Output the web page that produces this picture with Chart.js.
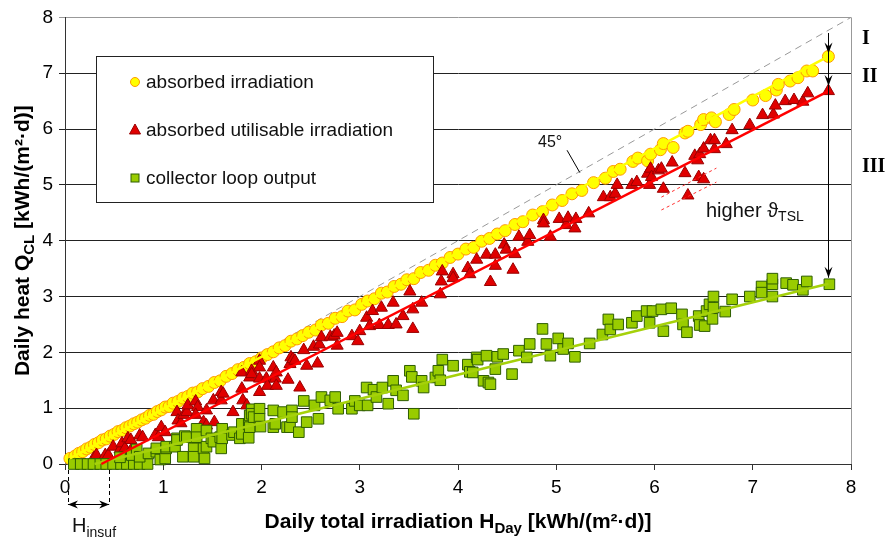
<!DOCTYPE html>
<html>
<head>
<meta charset="utf-8">
<script src="https://cdn.jsdelivr.net/npm/chart.js@4.4.1/dist/chart.umd.min.js"></script>
<style>
  html, body { margin: 0; padding: 0; background: #fff; }
  #wrap { width: 890px; height: 538px; }
</style>
</head>
<body>
<div id="wrap"><canvas id="heatChart" width="890" height="538"></canvas></div>
<script>
// absorbed irradiation (yellow circles)
const irrX = [0.05,0.10,0.14,0.18,0.22,0.26,0.30,0.34,0.38,0.42,0.46,0.50,0.54,0.58,0.62,0.66,0.70,0.74,0.78,0.82,0.86,0.90,0.94,0.98,1.02,1.06,1.10,1.15,1.20,1.25,1.30,1.35,1.40,1.46,1.52,1.58,1.64,1.70,1.76,1.82,1.88,1.94,2.00,2.06,2.12,2.18,2.24,2.30,2.36,2.42,2.48,2.55,2.61,2.68,2.75,2.82,2.88,2.95,3.02,3.08,3.15,3.22,3.28,3.35,3.42,3.48,3.55,3.62,3.70,3.77,3.84,3.92,4.00,4.08,4.16,4.24,4.32,4.40,4.48,4.58,4.66,4.76,4.86,4.96,5.06,5.16,5.26,5.38,5.50,5.58,5.65,5.78,5.83,5.93,5.96,6.06,6.09,6.19,6.31,6.34,6.47,6.50,6.58,6.62,6.76,6.81,7.00,7.13,7.24,7.26,7.38,7.46,7.55,7.61,7.77];
const irrY = [0.10,0.14,0.19,0.22,0.27,0.30,0.35,0.38,0.43,0.45,0.50,0.53,0.58,0.60,0.65,0.68,0.72,0.75,0.79,0.82,0.87,0.89,0.94,0.97,1.02,1.03,1.09,1.12,1.18,1.21,1.27,1.29,1.35,1.39,1.46,1.49,1.57,1.62,1.69,1.73,1.80,1.83,1.90,1.96,2.01,2.08,2.12,2.20,2.24,2.30,2.36,2.40,2.49,2.52,2.61,2.64,2.74,2.76,2.86,2.92,2.96,3.06,3.08,3.18,3.22,3.30,3.32,3.43,3.47,3.56,3.60,3.70,3.76,3.85,3.88,3.99,4.04,4.12,4.18,4.29,4.34,4.46,4.52,4.64,4.72,4.84,4.90,5.04,5.12,5.24,5.28,5.42,5.48,5.43,5.55,5.63,5.74,5.67,5.93,5.96,6.08,6.17,6.20,6.13,6.26,6.35,6.52,6.60,6.70,6.80,6.86,6.92,7.04,7.04,7.30];

// absorbed utilisable irradiation (red triangles)
const utilX = [0.29,0.32,0.41,0.44,0.49,0.56,0.58,0.61,0.64,0.67,0.67,0.76,0.79,0.92,0.95,0.98,1.02,1.14,1.15,1.18,1.21,1.24,1.25,1.32,1.33,1.35,1.33,1.41,1.44,1.44,1.51,1.52,1.59,1.59,1.61,1.71,1.80,1.81,1.80,1.85,1.88,1.90,1.90,1.98,1.98,1.98,1.98,2.05,2.06,2.12,2.14,2.15,2.15,2.27,2.29,2.30,2.32,2.34,2.39,2.43,2.46,2.53,2.57,2.59,2.61,2.70,2.74,2.77,2.77,2.92,2.98,3.00,3.07,3.10,3.13,3.20,3.22,3.29,3.34,3.37,3.44,3.51,3.54,3.54,3.63,3.82,3.83,3.84,3.95,3.95,4.10,4.12,4.19,4.29,4.33,4.38,4.38,4.47,4.49,4.56,4.58,4.62,4.71,4.73,4.87,4.87,4.94,5.03,5.10,5.12,5.19,5.20,5.33,5.48,5.55,5.60,5.62,5.77,5.82,5.93,5.95,5.96,5.97,6.04,6.07,6.09,6.18,6.31,6.34,6.41,6.44,6.45,6.46,6.50,6.50,6.57,6.61,6.61,6.73,6.79,6.97,7.10,7.21,7.23,7.33,7.42,7.51,7.56,7.77];
const utilY = [0.10,0.16,0.16,0.16,0.31,0.26,0.37,0.28,0.46,0.43,0.24,0.51,0.48,0.52,0.48,0.66,0.57,0.93,0.78,0.73,0.88,0.93,1.05,0.31,1.12,1.02,0.88,0.75,0.96,0.69,1.14,0.75,1.29,1.14,1.26,0.93,1.35,1.14,1.64,1.05,1.55,1.67,1.61,1.85,1.53,1.29,1.73,1.53,1.40,1.73,1.53,1.64,1.40,1.51,1.79,1.91,1.88,1.85,1.37,2.04,1.76,2.10,1.80,2.14,2.27,2.28,2.30,2.12,2.35,2.29,2.20,2.38,2.62,2.47,2.74,2.49,2.80,2.49,2.89,2.50,2.65,3.09,2.42,2.77,2.89,3.04,3.27,3.45,3.40,3.33,3.51,3.40,3.66,3.75,3.26,3.75,3.55,3.93,3.84,3.48,3.76,4.07,3.98,4.10,4.37,4.31,4.07,4.39,4.28,4.41,4.22,4.39,4.49,4.78,4.78,4.84,5.00,5.00,5.05,5.20,5.00,5.29,5.14,5.26,5.29,4.93,5.40,5.21,4.81,5.52,5.44,5.14,5.55,5.65,5.10,5.80,5.64,5.80,5.73,5.98,6.07,6.25,6.26,6.42,6.50,6.52,6.49,6.64,6.68];

// collector loop output (green squares)
const loopX = [0.09,0.16,0.23,0.29,0.36,0.42,0.49,0.57,0.63,0.70,0.76,0.84,0.56,0.68,0.73,0.76,0.85,0.93,0.93,0.97,1.02,1.03,1.03,1.12,1.14,1.14,1.20,1.22,1.24,1.31,1.31,1.34,1.34,1.41,1.42,1.44,1.44,1.49,1.51,1.58,1.59,1.60,1.60,1.70,1.72,1.78,1.80,1.80,1.87,1.87,1.88,1.88,1.90,1.90,1.92,1.98,1.98,1.99,2.12,2.12,2.14,2.22,2.26,2.29,2.31,2.31,2.38,2.43,2.46,2.54,2.58,2.61,2.70,2.75,2.78,2.92,2.95,3.00,3.07,3.08,3.14,3.17,3.23,3.29,3.34,3.37,3.44,3.51,3.53,3.55,3.63,3.65,3.77,3.80,3.82,3.84,3.95,4.10,4.12,4.15,4.19,4.20,4.26,4.29,4.31,4.33,4.38,4.40,4.46,4.55,4.62,4.70,4.73,4.86,4.90,4.94,5.02,5.07,5.12,5.19,5.34,5.47,5.53,5.55,5.63,5.77,5.82,5.92,5.95,5.98,6.07,6.09,6.17,6.28,6.29,6.33,6.45,6.46,6.51,6.53,6.56,6.59,6.60,6.60,6.72,6.79,6.97,7.09,7.09,7.20,7.20,7.20,7.34,7.41,7.51,7.55,7.78];
const loopY = [0,0,0,0,0,0,0,0,0,0,0,0,0.12,0.16,0.26,0.13,0.19,0.22,0.28,0.08,0.10,0.28,0.31,0.31,0.46,0.43,0.13,0.50,0.48,0.28,0.13,0.63,0.48,0.28,0.10,0.60,0.31,0.46,0.40,0.48,0.28,0.63,0.46,0.52,0.57,0.46,0.72,0.54,0.47,0.71,0.87,0.66,0.98,0.90,0.84,0.99,0.81,0.67,0.96,0.66,0.72,0.93,0.66,0.66,0.96,0.84,0.57,1.13,0.75,1.05,0.81,1.20,1.14,1.20,0.99,0.99,1.13,1.05,1.37,1.05,1.33,1.20,1.37,1.08,1.49,1.32,1.23,1.67,1.56,0.90,1.49,1.37,1.55,1.67,1.50,1.87,1.76,1.78,1.65,1.64,1.91,1.87,1.49,1.94,1.46,1.43,1.70,1.92,1.97,1.61,2.03,1.91,2.15,2.42,2.15,1.94,2.25,2.06,2.16,1.92,2.16,2.32,2.59,2.41,2.50,2.53,2.65,2.74,2.53,2.74,2.77,2.38,2.79,2.68,2.50,2.36,2.65,2.49,2.47,2.74,2.86,2.60,3.00,2.80,2.73,2.95,3.00,3.18,3.07,3.00,3.22,3.32,3.24,3.21,3.12,3.27,3.22];

// regression lines and helper lines (end points)
const irrFitX = [0.05, 7.77],  irrFitY = [0.10, 7.30];
const utilFitX = [0.37, 7.77], utilFitY = [0.00, 6.68];
const loopFitX = [0.30, 7.77], loopFitY = [0.00, 3.23];
const diagX = [0, 8], diagY = [0, 8];
const shift1X = [6.07, 6.63], shift1Y = [4.78, 5.30];
const shift2X = [6.07, 6.63], shift2Y = [4.55, 5.05];
const hInsuf = 0.45;
const arrowX = 7.77;

const legendLabels = ['absorbed irradiation', 'absorbed utilisable irradiation', 'collector loop output'];

const pts = (xs, ys) => xs.map((v, i) => ({x: v, y: ys[i]}));
const SANS = '"Liberation Sans", Arial, sans-serif';
const SERIF = '"Liberation Serif", "Times New Roman", serif';

const colors = {
  irrFill: '#FFFF00', irrEdge: '#FF9900',
  utilFill: '#E00000', utilEdge: '#990000',
  loopFill: '#99CC00', loopEdge: '#2E5E00'
};

function lineSet(xs, ys, color, width, dash, order) {
  return {
    type: 'line', data: pts(xs, ys), borderColor: color, borderWidth: width,
    borderDash: dash || [], pointRadius: 0, fill: false, order: order, clip: false
  };
}

// draw a text made of pieces [text, font, dy]
function richText(ctx, parts, x, y, align) {
  let total = 0;
  parts.forEach(p => { ctx.font = p[1]; total += ctx.measureText(p[0]).width; });
  let cx = align === 'center' ? x - total / 2 : x;
  ctx.textAlign = 'left';
  ctx.textBaseline = 'alphabetic';
  parts.forEach(p => {
    ctx.font = p[1];
    ctx.fillText(p[0], cx, y + (p[2] || 0));
    cx += ctx.measureText(p[0]).width;
  });
}

function arrowHead(ctx, x, y, dir) {
  ctx.beginPath();
  if (dir === 'down') {
    ctx.moveTo(x, y); ctx.lineTo(x - 4, y - 11); ctx.lineTo(x, y - 7); ctx.lineTo(x + 4, y - 11);
  } else if (dir === 'left') {
    ctx.moveTo(x, y); ctx.lineTo(x + 10, y - 4); ctx.lineTo(x + 7, y); ctx.lineTo(x + 10, y + 4);
  } else {
    ctx.moveTo(x, y); ctx.lineTo(x - 10, y - 4); ctx.lineTo(x - 7, y); ctx.lineTo(x - 10, y + 4);
  }
  ctx.closePath();
  ctx.fill();
}

const overlay = {
  id: 'overlay',
  afterDraw(chart) {
    const {ctx, chartArea: a} = chart;
    const x = chart.scales.x, y = chart.scales.y;
    ctx.save();

    // right plot border
    ctx.strokeStyle = '#999';
    ctx.lineWidth = 1;
    ctx.beginPath();
    ctx.moveTo(Math.round(a.right) + 0.5, a.top);
    ctx.lineTo(Math.round(a.right) + 0.5, a.bottom);
    ctx.stroke();

    // legend box
    ctx.fillStyle = '#fff';
    ctx.strokeStyle = '#222';
    ctx.fillRect(96.5, 56.5, 337, 146);
    ctx.strokeRect(96.5, 56.5, 337, 146);
    const rows = [82, 130, 178];
    ctx.lineWidth = 1;
    ctx.beginPath(); ctx.arc(135, rows[0], 4.5, 0, Math.PI * 2);
    ctx.fillStyle = colors.irrFill; ctx.fill(); ctx.strokeStyle = colors.irrEdge; ctx.stroke();
    ctx.beginPath(); ctx.moveTo(135, rows[1] - 6); ctx.lineTo(140.5, rows[1] + 4); ctx.lineTo(129.5, rows[1] + 4); ctx.closePath();
    ctx.fillStyle = colors.utilFill; ctx.fill(); ctx.strokeStyle = colors.utilEdge; ctx.stroke();
    ctx.fillStyle = colors.loopFill; ctx.fillRect(131, rows[2] - 4, 8, 8);
    ctx.strokeStyle = colors.loopEdge; ctx.strokeRect(131, rows[2] - 4, 8, 8);
    ctx.fillStyle = '#111';
    ctx.font = '19px ' + SANS;
    ctx.textBaseline = 'middle';
    ctx.textAlign = 'left';
    legendLabels.forEach((t, i) => ctx.fillText(t, 146, rows[i] + 1));

    // axis titles
    ctx.fillStyle = '#000';
    richText(ctx, [
      ['Daily total irradiation H', 'bold 21px ' + SANS, 0],
      ['Day', 'bold 15px ' + SANS, 5],
      [' [kWh/(m\u00B2\u00B7d)]', 'bold 21px ' + SANS, 0]
    ], (a.left + a.right) / 2, 528, 'center');
    ctx.save();
    ctx.translate(29, (a.top + a.bottom) / 2);
    ctx.rotate(-Math.PI / 2);
    richText(ctx, [
      ['Daily heat Q', 'bold 21px ' + SANS, 0],
      ['CL', 'bold 15px ' + SANS, 5],
      [' [kWh/(m\u00B2\u00B7d)]', 'bold 21px ' + SANS, 0]
    ], 0, 0, 'center');
    ctx.restore();

    // vertical arrow at the end of the fits
    const ax = Math.round(x.getPixelForValue(arrowX)) + 0.5;
    ctx.strokeStyle = '#000';
    ctx.fillStyle = '#000';
    ctx.beginPath();
    ctx.moveTo(ax, y.getPixelForValue(7.72));
    ctx.lineTo(ax, y.getPixelForValue(3.23) - 6);
    ctx.stroke();
    arrowHead(ctx, ax, y.getPixelForValue(7.30) - 3, 'down');
    arrowHead(ctx, ax, y.getPixelForValue(6.68) - 5, 'down');
    arrowHead(ctx, ax, y.getPixelForValue(3.23) - 6, 'down');

    // I, II, III
    ctx.font = 'bold 20px ' + SERIF;
    ctx.textBaseline = 'middle';
    ctx.textAlign = 'left';
    ctx.fillText('I', 862, 39);
    ctx.fillText('II', 862, 77);
    ctx.fillText('III', 862, 167);

    // higher theta_TSL
    ctx.fillStyle = '#111';
    richText(ctx, [
      ['higher \u03D1', '20px ' + SANS, 0],
      ['TSL', '14px ' + SANS, 4]
    ], 706, 217, 'left');

    // 45 degree label with leader
    ctx.font = '16px ' + SANS;
    ctx.textBaseline = 'middle';
    ctx.fillText('45\u00B0', 538, 143);
    ctx.strokeStyle = '#000';
    ctx.beginPath();
    ctx.moveTo(x.getPixelForValue(5.11), y.getPixelForValue(5.62));
    ctx.lineTo(x.getPixelForValue(5.24), y.getPixelForValue(5.22));
    ctx.stroke();

    // H_insuf marker
    const h0 = x.getPixelForValue(0.03), h1 = x.getPixelForValue(hInsuf);
    ctx.setLineDash([4, 3]);
    ctx.beginPath();
    ctx.moveTo(Math.round(h0) + 0.5, a.bottom + 6); ctx.lineTo(Math.round(h0) + 0.5, 505);
    ctx.moveTo(Math.round(h1) + 0.5, a.bottom + 6); ctx.lineTo(Math.round(h1) + 0.5, 505);
    ctx.stroke();
    ctx.setLineDash([]);
    ctx.beginPath();
    ctx.moveTo(h0, 504.5); ctx.lineTo(h1, 504.5);
    ctx.stroke();
    ctx.fillStyle = '#000';
    arrowHead(ctx, h0, 504.5, 'left');
    arrowHead(ctx, h1, 504.5, 'right');
    ctx.fillStyle = '#111';
    richText(ctx, [
      ['H', '20px ' + SANS, 0],
      ['insuf', '14px ' + SANS, 5]
    ], 72, 532, 'left');

    ctx.restore();
  }
};

const tickFont = {family: SANS, size: 19};

new Chart(document.getElementById('heatChart'), {
  type: 'scatter',
  data: {
    datasets: [
      {
        label: legendLabels[0], data: pts(irrX, irrY), pointStyle: 'circle', pointRadius: 6,
        backgroundColor: colors.irrFill, borderColor: colors.irrEdge, borderWidth: 1, order: 5, clip: false
      },
      {
        label: legendLabels[1], data: pts(utilX, utilY), pointStyle: 'triangle', pointRadius: 7,
        backgroundColor: colors.utilFill, borderColor: colors.utilEdge, borderWidth: 1, order: 4, clip: false
      },
      {
        label: legendLabels[2], data: pts(loopX, loopY), pointStyle: 'rect', pointRadius: 7.5,
        backgroundColor: colors.loopFill, borderColor: colors.loopEdge, borderWidth: 1, order: 3, clip: false
      },
      lineSet(diagX, diagY, '#999', 1, [7, 5], 10),
      lineSet(irrFitX, irrFitY, '#FFFF00', 2.5, null, 1),
      lineSet(utilFitX, utilFitY, '#FF0000', 2.5, null, 1),
      lineSet(loopFitX, loopFitY, '#A5D10A', 2.5, null, 1),
      lineSet(shift1X, shift1Y, '#FF3030', 1, [3, 3], 1),
      lineSet(shift2X, shift2Y, '#FF3030', 1, [3, 3], 1)
    ]
  },
  options: {
    responsive: false,
    animation: false,
    events: [],
    layout: {padding: {top: 14, right: 39, left: 0, bottom: 0}},
    plugins: {legend: {display: false}, tooltip: {enabled: false}},
    scales: {
      x: {
        type: 'linear', min: 0, max: 8,
        ticks: {stepSize: 1, color: '#000', font: tickFont, padding: 6},
        grid: {drawOnChartArea: false, drawTicks: true, tickLength: 6, color: '#333'},
        border: {color: '#333'},
        afterFit(s) { s.height = 74; }
      },
      y: {
        type: 'linear', min: 0, max: 8,
        ticks: {stepSize: 1, color: '#000', font: tickFont, padding: 6},
        grid: {
          drawTicks: true, tickLength: 6,
          color: c => c.tick && c.tick.value === 8 ? '#999' : '#222'
        },
        border: {color: '#333'},
        afterFit(s) { s.width = 65; }
      }
    }
  },
  plugins: [overlay]
});
</script>
</body>
</html>
